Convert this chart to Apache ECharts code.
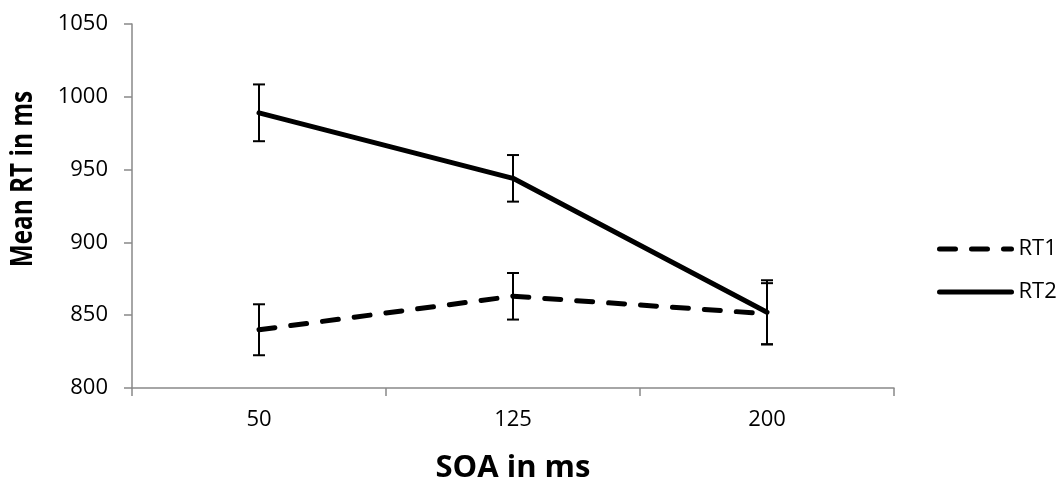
<!DOCTYPE html>
<html>
<head>
<meta charset="utf-8">
<script src="https://cdn.jsdelivr.net/npm/echarts@6/dist/echarts.min.js"></script>
<style>html,body{margin:0;padding:0;background:#fff;}#c{width:1058px;height:481px;}</style>
</head>
<body>
<div id="c"></div>
<script>
var categories = ['50', '125', '200'];
var rt1 = [840, 863, 851];
var rt1Err = [17.5, 16, 21];
var rt2 = [989, 944, 852];
var rt2Err = [19.5, 16, 22];
var yTicks = {min: 800, max: 1050, interval: 50};

var FONT = 'Open Sans';
function errData(vals, errs) {
  return vals.map(function (v, i) { return [i, v - errs[i], v + errs[i]]; });
}
function errSeries(vals, errs) {
  return {
    type: 'custom',
    silent: true,
    z: 1,
    data: errData(vals, errs),
    renderItem: function (params, api) {
      var x = api.value(0);
      var lo = api.coord([x, api.value(1)]);
      var hi = api.coord([x, api.value(2)]);
      var hw = 6;
      var st = {stroke: '#000', lineWidth: 2, fill: null};
      return {
        type: 'group',
        children: [
          {type: 'line', shape: {x1: lo[0], y1: lo[1], x2: hi[0], y2: hi[1]}, style: st},
          {type: 'line', shape: {x1: lo[0] - hw, y1: lo[1], x2: lo[0] + hw, y2: lo[1]}, style: st},
          {type: 'line', shape: {x1: hi[0] - hw, y1: hi[1], x2: hi[0] + hw, y2: hi[1]}, style: st}
        ]
      };
    }
  };
}

var chart = echarts.init(document.getElementById('c'));
chart.setOption({
  animation: false,
  backgroundColor: '#fff',
  grid: {left: 132, right: 164, top: 24, bottom: 93, containLabel: false, outerBoundsMode: 'none'},
  legend: {
    orient: 'vertical',
    left: 932,
    top: 233,
    itemWidth: 72,
    itemHeight: 14,
    itemGap: 21,
    itemStyle: {opacity: 0},
    lineStyle: {width: 5, cap: 'round'},
    textStyle: {fontFamily: FONT, fontSize: 22, color: '#000', padding: [0, 0, 0, 2]},
    data: ['RT1', 'RT2']
  },
  xAxis: {
    type: 'category',
    data: categories,
    boundaryGap: true,
    axisLine: {lineStyle: {color: '#898989', width: 1.5}},
    axisTick: {show: true, length: 8, lineStyle: {color: '#898989', width: 1.5}},
    axisLabel: {fontFamily: FONT, fontSize: 22, color: '#000', margin: 21},
    name: 'SOA in ms',
    nameLocation: 'middle',
    nameGap: 65,
    nameTextStyle: {fontFamily: FONT, fontSize: 31, fontWeight: 'bold', color: '#000'}
  },
  yAxis: {
    type: 'value',
    min: yTicks.min,
    max: yTicks.max,
    interval: yTicks.interval,
    splitLine: {show: false},
    axisLine: {show: true, lineStyle: {color: '#898989', width: 1.5}},
    axisTick: {show: true, length: 8, lineStyle: {color: '#898989', width: 1.5}},
    axisLabel: {fontFamily: FONT, fontSize: 22, color: '#000', margin: 24,
      formatter: function (v) { return String(v); }}
  },
  graphic: [{
    type: 'text',
    x: 23,
    y: 179,
    rotation: Math.PI / 2,
    scaleX: 0.81,
    style: {text: 'Mean RT in ms', font: 'bold 30px "Open Sans"', fill: '#000',
      align: 'center', verticalAlign: 'middle'}
  }],
  series: [
    {
      name: 'RT1', type: 'line', data: rt1, symbol: 'none', z: 3,
      lineStyle: {color: '#000', width: 5, type: [16, 16], cap: 'round'},
      itemStyle: {color: '#000'}
    },
    {
      name: 'RT2', type: 'line', data: rt2, symbol: 'none', z: 3,
      lineStyle: {color: '#000', width: 5, type: 'solid', cap: 'round'},
      itemStyle: {color: '#000'}
    },
    errSeries(rt1, rt1Err),
    errSeries(rt2, rt2Err)
  ]
});
</script>
</body>
</html>
